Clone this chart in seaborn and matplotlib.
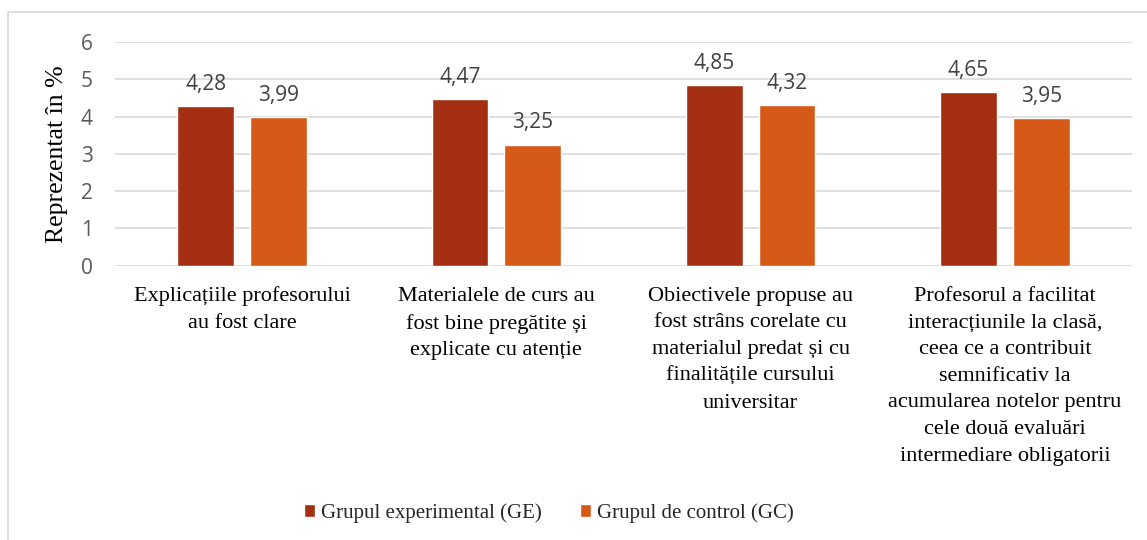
import matplotlib
matplotlib.use("Agg")
import matplotlib.pyplot as plt
from matplotlib.patches import Rectangle
import numpy as np
import pandas as pd
import seaborn as sns

categories = [
    "Explicațiile profesorului\nau fost clare",
    "Materialele de curs au\nfost bine pregătite și\nexplicate cu atenție",
    "Obiectivele propuse au\nfost strâns corelate cu\nmaterialul predat și cu\nfinalitățile cursului\nuniversitar",
    "Profesorul a facilitat\ninteracțiunile la clasă,\nceea ce a contribuit\nsemnificativ la\nacumularea notelor pentru\ncele două evaluări\nintermediare obligatorii",
]
groups = ["Grupul experimental (GE)", "Grupul de control (GC)"]
ge_values = [4.28, 4.47, 4.85, 4.65]
gc_values = [3.99, 3.25, 4.32, 3.95]
colors = ["#A52F12", "#D55A18"]
yticks = [0, 1, 2, 3, 4, 5, 6]

df = pd.DataFrame({
    "categorie": categories * 2,
    "grup": [groups[0]] * 4 + [groups[1]] * 4,
    "valoare": ge_values + gc_values,
})

sns.set_style("white")
serif = ["Liberation Serif", "DejaVu Serif"]
sans = ["Open Sans", "DejaVu Sans"]
plt.rcParams["font.family"] = sans

fig = plt.figure(figsize=(11.47, 5.4), dpi=100)
ax = fig.add_axes([115 / 1147, 1 - 265.7 / 540, (1132 - 115) / 1147, (265.7 - 42) / 540])

sns.barplot(data=df, x="categorie", y="valoare", hue="grup", palette=colors,
            width=0.573, gap=0.22, saturation=1, ax=ax, errorbar=None)

for c in ax.containers:
    labels = [f"{v:.2f}".replace(".", ",") for v in c.datavalues]
    ax.bar_label(c, labels=labels, padding=8, fontsize=15, color="#404040",
                 family=sans)

ax.set_ylim(0, 6)
ax.set_yticks(yticks)
ax.yaxis.grid(True, color="#D9D9D9", lw=1.2)
ax.set_axisbelow(True)
for s in ax.spines.values():
    s.set_visible(False)
ax.tick_params(axis="y", length=0, pad=16, labelsize=15, labelcolor="#595959")
ax.tick_params(axis="x", length=0, pad=15)
for t in ax.get_xticklabels():
    t.set_fontfamily(serif)
    t.set_fontsize(16)
    t.set_color("#000000")
    t.set_verticalalignment("top")
    t.set_linespacing(1.55)
ax.set_xlabel("")
ax.set_ylabel("Reprezentat în %", family=serif, fontsize=18.5, color="#000000")
ax.yaxis.set_label_coords(-0.046, 0.5)

handles, labels = ax.get_legend_handles_labels()
ax.get_legend().remove()
fig.legend(handles, labels, loc="center", bbox_to_anchor=(0.4786, 0.05), ncol=2,
           frameon=False, handlelength=0.55, handleheight=0.55, handletextpad=0.3,
           columnspacing=1.8, prop={"family": serif, "size": 15})

fig.patches.append(Rectangle((8 / 1147, -0.1), 1.2, (540 - 12) / 540 + 0.1,
                             transform=fig.transFigure, fill=False,
                             edgecolor="#D9D9D9", lw=1.2))

fig.savefig("out.png", dpi=100)
